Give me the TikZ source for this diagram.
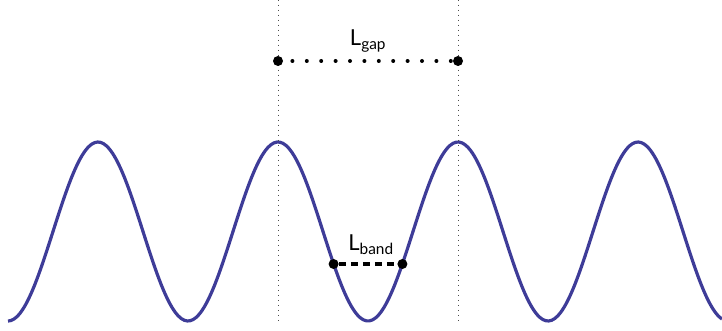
\documentclass[tikz,border=0pt]{standalone}
\usepackage{fontspec}
\setmainfont{Lato}
\usepackage{xcolor}
\usepackage{tikz}
\usetikzlibrary{positioning}

\definecolor{wavecol}{RGB}{62,60,152}

\begin{document}
\begin{tikzpicture}[x=1pt, y=-1pt,
  wave/.style={line width=3.2pt, color=wavecol},
  guide/.style={line width=1pt, dash pattern=on 1pt off 4pt, black!70},
  gapline/.style={line width=4pt, line cap=round, dash pattern=on 0pt off 14.4pt},
  bandline/.style={line width=3.5pt, dash pattern=on 7pt off 5pt},
  endpt/.style={circle, fill=black, inner sep=0pt, minimum size=10pt},
  lbl/.style={font=\fontsize{22}{24}\selectfont, inner sep=0pt}]

  \useasboundingbox (0,0) rectangle (722,331);

  % the wave
  \draw[wave] plot[domain=8:722, samples=240, smooth]
    (\x, {231.5 - 89.5*cos(2*(\x-98))});

  % guides through the two crests
  \coordinate (gtopA) at (278,0);
  \coordinate (gbotA) at (278,322);
  \coordinate (gtopB) at (458,0);
  \coordinate (gbotB) at (458,322);
  \draw[guide] (gtopA) -- (gbotA);
  \draw[guide] (gtopB) -- (gbotB);

  % gap
  \node[endpt] (gapA) at (278,61) {};
  \node[endpt] (gapB) at (458,61) {};
  \draw[gapline] (gapA.center) -- (gapB.center);
  \node[lbl, anchor=base] (gaplbl) at (368,46) {L\textsubscript{gap}};

  % band
  \node[endpt] (bandA) at (333.6,264) {};
  \node[endpt] (bandB) at (402.4,264) {};
  \draw[bandline] (bandA) -- (bandB);
  \node[lbl, anchor=base] (bandlbl) at (371,250) {L\textsubscript{band}};

\end{tikzpicture}
\end{document}
